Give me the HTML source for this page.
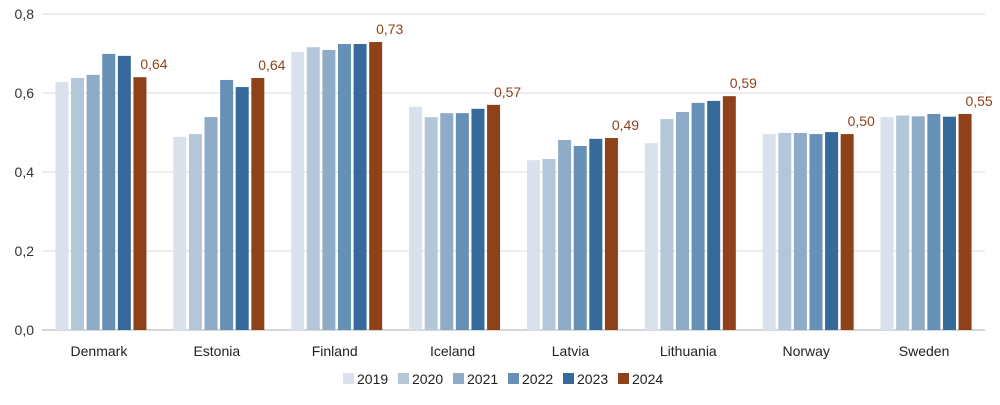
<!DOCTYPE html>
<html><head><meta charset="utf-8"><style>
body{margin:0;background:#fff;font-family:"Liberation Sans",sans-serif}
svg text{font-family:"Liberation Sans",sans-serif}
</style></head><body>
<svg id="c" width="1000" height="400"></svg>
<script>
const categories=["Denmark","Estonia","Finland","Iceland","Latvia","Lithuania","Norway","Sweden"];
const years=["2019","2020","2021","2022","2023","2024"];
const v2019=[0.628,0.489,0.704,0.565,0.430,0.473,0.496,0.539];
const v2020=[0.638,0.496,0.716,0.539,0.433,0.534,0.499,0.543];
const v2021=[0.646,0.539,0.709,0.549,0.481,0.552,0.499,0.541];
const v2022=[0.699,0.633,0.724,0.549,0.466,0.575,0.496,0.547];
const v2023=[0.694,0.615,0.724,0.560,0.484,0.580,0.501,0.540];
const v2024=[0.640,0.638,0.729,0.570,0.486,0.592,0.496,0.547];
const labels2024=["0,64","0,64","0,73","0,57","0,49","0,59","0,50","0,55"];
const yTicks=[0,0.2,0.4,0.6,0.8];
const yTickLabels=["0,0","0,2","0,4","0,6","0,8"];
const series=[v2019,v2020,v2021,v2022,v2023,v2024];
const colors=["#d9e2ec","#b4c7d9","#8eabc7","#6690b5","#366a9a","#8f4219"];
const NS="http://www.w3.org/2000/svg";
const svg=document.getElementById('c');
const L=42,R=985,Y0=330,Y1=14;
const y=v=>Y0-(v/0.8)*(Y0-Y1);
const gw=(R-L)/categories.length;
function mk(t,a){const e=document.createElementNS(NS,t);for(const k in a)e.setAttribute(k,a[k]);svg.appendChild(e);return e;}
yTicks.forEach((t,i)=>{
 const g=mk('line',{x1:L,x2:R,y1:y(t),y2:y(t),stroke:i==0?'#bfbfbf':'#e3e3e3','stroke-width':1.3});
 
 
 const tx=mk('text',{x:34,y:y(t)+5,'text-anchor':'end','font-size':14,fill:'#333'});
 tx.textContent=yTickLabels[i];
 
 
});
const step=15.6,bw=13;
categories.forEach((c,ci)=>{
 const cx=L+gw*ci+gw/2;
 series.forEach((s,si)=>{
  const x=cx-step*2.5+si*step-bw/2;
  const r=mk('rect',{x:x,y:y(s[ci]),width:bw,height:Y0-y(s[ci]),fill:colors[si]});
  
  
  if(si==5){
   const t=mk('text',{x:x+bw/2+14,y:y(s[ci])-8,'text-anchor':'middle','font-size':14,fill:'#8f4219'});
   t.textContent=labels2024[ci];
   
   
  }
 });
 const t=mk('text',{x:cx-2,y:356,'text-anchor':'middle','font-size':14,fill:'#222'});
 t.textContent=c;
 
 
});
years.forEach((yr,i)=>{
 const x=343+i*55;
 const r=mk('rect',{x:x,y:373,width:11,height:11,fill:colors[i]});
 
 
 const t=mk('text',{x:x+14,y:384,'font-size':14,fill:'#222'});
 t.textContent=yr;
 
 
});
</script>
</body></html>
